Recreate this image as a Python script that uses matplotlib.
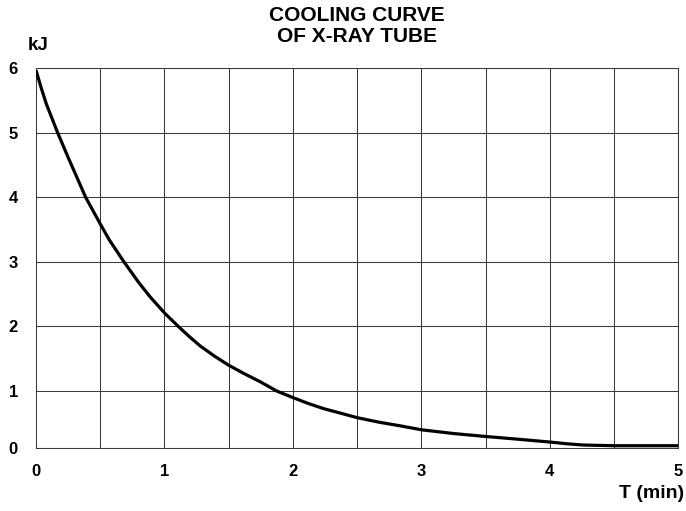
"""Cooling curve of an X-ray tube: stored heat (kJ) against time (min)."""

import matplotlib
matplotlib.use("Agg")
import matplotlib.pyplot as plt
import numpy as np

# stored heat
t_min = [0.0, 0.04, 0.08, 0.169, 0.25, 0.387, 0.5, 0.571, 0.685, 0.8, 0.888,
         1.0, 1.108, 1.19, 1.277, 1.39, 1.5, 1.62, 1.745, 1.874, 2.0, 2.12,
         2.238, 2.37, 2.5, 2.67, 2.835, 3.0, 3.25, 3.5, 3.75, 4.0, 4.13,
         4.262, 4.5, 5.0]
heat_kj = [5.97, 5.70, 5.45, 5.0, 4.62, 4.0, 3.59, 3.34, 3.0, 2.68, 2.46,
           2.21, 2.0, 1.85, 1.70, 1.54, 1.40, 1.27, 1.144, 1.0, 0.884, 0.78,
           0.69, 0.61, 0.53, 0.45, 0.386, 0.316, 0.25, 0.198, 0.15, 0.10, 0.07,
           0.047, 0.035, 0.035]

x_ticks = [0, 1, 2, 3, 4, 5]
x_grid = [0.5 * i for i in range(11)]
y_ticks = [0, 1, 2, 3, 4, 5, 6]

# the 0..1 band of the chart is drawn a bit shorter than the others
LOW_BAND = 0.878


def fwd(y):
    y = np.asarray(y, dtype=float)
    return np.where(y < 1, 1 - (1 - y) * LOW_BAND, y)


def inv(v):
    v = np.asarray(v, dtype=float)
    return np.where(v < 1, 1 - (1 - v) / LOW_BAND, v)


plt.rcParams["font.family"] = ["Liberation Sans", "DejaVu Sans"]
plt.rcParams["font.weight"] = "bold"

fig = plt.figure(figsize=(6.86, 5.11), dpi=100)
ax = fig.add_axes([36 / 686, 1 - 447.7 / 511, 642.3 / 686, 379.4 / 511])

ax.set_yscale("function", functions=(fwd, inv))
ax.set_xlim(0, 5)
ax.set_ylim(0, 6)

GRID = "#3a3a3a"
for x in x_grid:
    ax.axvline(x, color=GRID, linewidth=0.75, zorder=1)
for y in y_ticks:
    ax.axhline(y, color=GRID, linewidth=0.75, zorder=1)
for s in ax.spines.values():
    s.set_color(GRID)
    s.set_linewidth(0.75)

ax.plot(t_min, heat_kj, color="black", linewidth=2.3, zorder=3,
        solid_capstyle="butt", solid_joinstyle="round")

ax.set_xticks(x_ticks)
ax.set_xticklabels([str(v) for v in x_ticks])
ax.set_yticks(y_ticks)
ax.set_yticklabels([str(v) for v in y_ticks])
ax.yaxis.set_minor_locator(matplotlib.ticker.NullLocator())
ax.tick_params(axis="x", length=0, pad=12, labelsize=12)
ax.tick_params(axis="y", length=0, pad=13, labelsize=12)
for lab in ax.get_xticklabels() + ax.get_yticklabels():
    lab.set_fontweight("bold")

fig.text(357 / 686, 1 - 15 / 511, "COOLING CURVE", ha="center", va="center",
         fontsize=15, fontweight="bold")
fig.text(357 / 686, 1 - 37 / 511, "OF X-RAY TUBE", ha="center", va="center",
         fontsize=15, fontweight="bold")
fig.text(38.5 / 686, 1 - 45 / 511, "kJ", ha="center", va="center",
         fontsize=13.5, fontweight="bold")
fig.text(684 / 686, 1 - 494 / 511, "T (min)", ha="right", va="center",
         fontsize=14, fontweight="bold")

fig.savefig("out.png", dpi=100, facecolor="white")
